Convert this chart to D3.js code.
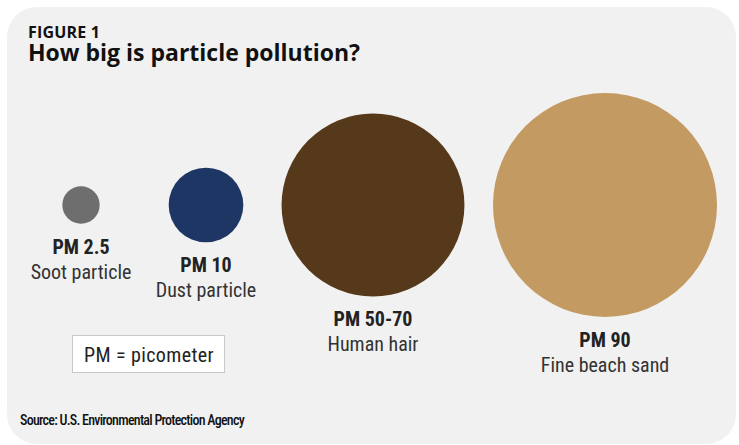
<!DOCTYPE html>
<html><head><meta charset="utf-8">
<script src="https://cdn.jsdelivr.net/npm/d3@7"></script>
<style>
  body { margin: 0; background: #fff; }
  text { font-family: "Roboto Condensed", "Open Sans", sans-serif; }
</style>
</head><body>
<div id="chart"></div>
<script>
// particle data
var names = ["PM 2.5", "PM 10", "PM 50-70", "PM 90"];
var sizes = [2.5, 10, 60, 90];
var labels = ["Soot particle", "Dust particle", "Human hair", "Fine beach sand"];
var colors = ["#6e6e6e", "#1e3663", "#55391a", "#c39a61"];

var width = 739, height = 445;

var svg = d3.select("#chart").append("svg")
    .attr("width", width)
    .attr("height", height);

// panel
svg.append("rect")
    .attr("x", 7).attr("y", 7)
    .attr("width", 729).attr("height", 437)
    .attr("rx", 30).attr("ry", 30)
    .style("fill", "#f1f1f1");

svg.append("text")
    .attr("x", 28).attr("y", 38)
    .style("font-family", "'Open Sans', sans-serif")
    .style("font-size", "16px").style("font-weight", "bold")
    .style("letter-spacing", "0.2px")
    .style("fill", "#111")
    .text("FIGURE 1");

svg.append("text")
    .attr("x", 28).attr("y", 61)
    .style("font-family", "'Open Sans', sans-serif")
    .style("font-size", "23px").style("font-weight", "bold")
    .style("fill", "#111")
    .text("How big is particle pollution?");

var data = names.map(function(n, i) {
    return {name: n, size: sizes[i], label: labels[i], color: colors[i]};
});

// set the scales
var x = d3.scaleOrdinal().domain(names).range([81, 206, 373, 605]);
var r = d3.scaleSqrt().domain([0, 90]).range([0, 112]);
var cy = 205;

var g = svg.selectAll(".particle")
    .data(data)
    .enter().append("g")
    .attr("class", "particle")
    .attr("transform", function(d) { return "translate(" + x(d.name) + "," + cy + ")"; });

g.append("circle")
    .attr("r", function(d) { return r(d.size); })
    .style("fill", function(d) { return d.color; });

g.append("text")
    .attr("y", function(d) { return r(d.size) + 30; })
    .style("text-anchor", "middle")
    .style("font-size", "20px").style("font-weight", "bold")
    .style("fill", "#222")
    .text(function(d) { return d.name; });

g.append("text")
    .attr("y", function(d) { return r(d.size) + 55; })
    .style("text-anchor", "middle")
    .style("font-size", "20px")
    .style("fill", "#333")
    .text(function(d) { return d.label; });

// key box
svg.append("rect")
    .attr("x", 72.5).attr("y", 335.5)
    .attr("width", 152).attr("height", 37)
    .style("fill", "#fff")
    .style("stroke", "#c8c8c8");

svg.append("text")
    .attr("x", 149).attr("y", 362)
    .style("text-anchor", "middle")
    .style("font-size", "20px")
    .style("letter-spacing", "0.4px")
    .style("fill", "#222")
    .text("PM = picometer");

svg.append("text")
    .attr("x", 20).attr("y", 425)
    .style("font-size", "14px").style("font-weight", "500")
    .style("letter-spacing", "-0.75px")
    .style("fill", "#111")
    .text("Source: U.S. Environmental Protection Agency");
</script></body></html>
